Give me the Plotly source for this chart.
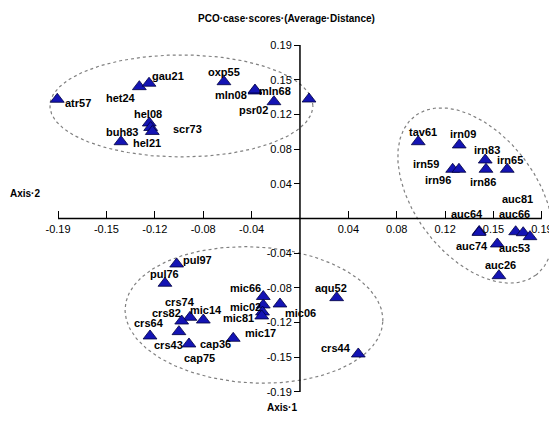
import numpy as np
import plotly.graph_objects as go

# ---- data ----
case_names = ["atr57", "het24", "gau21", "oxp55", "mln08", "mln68", "psr02", "",
              "hel08", "scr73", "hel21", "buh83",
              "tav61", "irn09", "irn83", "irn86", "irn59", "irn96", "irn65",
              "auc64", "auc74", "auc53", "auc26", "auc66", "", "auc81",
              "pul97", "pul76", "crs74", "crs82", "mic14", "crs64", "crs43", "cap75", "cap36",
              "mic66", "mic02", "mic17", "mic81", "mic06", "aqu52", "crs44"]
axis1_scores = [-0.1931, -0.1278, -0.1201, -0.0605, -0.0358, -0.0358, -0.0207, 0.0072,
                -0.1199, -0.1188, -0.1175, -0.1424,
                0.0941, 0.1267, 0.1474, 0.1480, 0.1215, 0.1265, 0.1649,
                0.1426, 0.1424, 0.1570, 0.1583, 0.1716, 0.1776, 0.1830,
                -0.0981, -0.1074, -0.0875, -0.0941, -0.0769, -0.1193, -0.0963, -0.0883, -0.0531,
                -0.0292, -0.0292, -0.0298, -0.0304, -0.0159, 0.0292, 0.0464]
axis2_scores = [0.1323, 0.1463, 0.1501, 0.1518, 0.1415, 0.1426, 0.1296, 0.1326,
                0.1060, 0.1010, 0.0966, 0.0852,
                0.0852, 0.0816, 0.0649, 0.0546, 0.0546, 0.0546, 0.0546,
                -0.0144, -0.0155, -0.0283, -0.0635, -0.0147, -0.0158, -0.0202,
                -0.0505, -0.0719, -0.1097, -0.1138, -0.1127, -0.1304, -0.1256, -0.1393, -0.1330,
                -0.0866, -0.0960, -0.1038, -0.1082, -0.0949, -0.0879, -0.1504]

tick_values = [-0.1925, -0.154, -0.1155, -0.077, -0.0385, 0.0385, 0.077, 0.1155, 0.154, 0.1925]
tick_labels = ["-0.19", "-0.15", "-0.12", "-0.08", "-0.04", "0.04", "0.08", "0.12", "0.15", "0.19"]

# ---- label placement (pixel offsets from each point; dy positive = downward) ----
label_dx = [21, -18, 19, 0, -24, 20, -20, 0,
            -1, 37, -5, 1,
            5, 4, 2, -3, -27, -21, 3,
            -12, -7, 17, 2, -1, 0, -12,
            21, 0, -10, -15, 3, -1, -10, 11, -18,
            -18, -18, -2, -23, 21, -6, -22]
label_dy = [4, 11, -7, -10, 4, 1, 8, 0,
            -9, 2, 12, -10,
            -10, -11, -10, 13, -5, 11, -9,
            -17, 14, 4, -11, -18, 0, -38,
            -4, -9, -15, -8, -10, -13, 13, 14, 6,
            -9, 2, 21, 2, 9, -10, -6]

# ---- group ellipses: centre and two conjugate semi-axis vectors (data units) ----
ellipse_centres = [(-0.0943, 0.1249), (0.1396, 0.0255), (-0.0366, -0.1071)]
ellipse_u = [(0.1046, 0.0), (0.0482, -0.0882), (0.1025, -0.0075)]
ellipse_v = [(0.0, 0.0566), (-0.0386, -0.0410), (-0.0028, -0.0754)]

x_range = [-0.2323, 0.2045]
y_range = [-0.2159, 0.2336]
axis_end = 0.1925

W, H, OFF = 549, 405, 8   # page body has an 8px margin
FONT = "Liberation Sans, Arial, sans-serif"


def px(x):
    return (x - OFF) / W


def py(y):
    return 1 - (y - OFF) / H


fig = go.Figure()

t = np.linspace(0, 2 * np.pi, 241)
for (cx, cy), (ux, uy), (vx, vy) in zip(ellipse_centres, ellipse_u, ellipse_v):
    fig.add_trace(go.Scatter(
        x=cx + ux * np.cos(t) + vx * np.sin(t),
        y=cy + uy * np.cos(t) + vy * np.sin(t),
        mode="lines", line=dict(color="#808080", width=1.2, dash="dot"),
        hoverinfo="skip", showlegend=False, cliponaxis=False))

fig.add_trace(go.Scatter(
    x=axis1_scores, y=axis2_scores, mode="markers", text=case_names,
    marker=dict(symbol="triangle-up", size=12, color="#1414b4",
                line=dict(color="#000040", width=0.8)),
    showlegend=False, cliponaxis=False))

for name, x, y, dx, dy in zip(case_names, axis1_scores, axis2_scores, label_dx, label_dy):
    if not name:
        continue
    fig.add_annotation(x=x, y=y, text=name, showarrow=False,
                       xshift=dx, yshift=-dy, xanchor="center", yanchor="middle",
                       font=dict(family=FONT, size=11, color="black", weight="bold"))

# axis lines through the origin
fig.add_shape(type="line", x0=-axis_end, x1=axis_end, y0=0, y1=0,
              line=dict(color="black", width=1.5), layer="above")
fig.add_shape(type="line", x0=0, x1=0, y0=-axis_end, y1=axis_end,
              line=dict(color="black", width=1.5), layer="above")

x_pos = (0 - y_range[0]) / (y_range[1] - y_range[0])
y_pos = (0 - x_range[0]) / (x_range[1] - x_range[0])

fig.update_layout(
    width=W, height=H,
    margin=dict(l=0, r=0, t=0, b=0),
    paper_bgcolor="white", plot_bgcolor="white",
    xaxis=dict(range=x_range, anchor="free", position=x_pos, side="bottom",
               showgrid=False, zeroline=False, showline=False,
               tickmode="array", tickvals=tick_values, ticktext=tick_labels,
               ticks="inside", ticklen=7, tickwidth=1.2, tickcolor="black",
               ticklabelstandoff=3,
               tickfont=dict(family=FONT, size=11, color="black")),
    yaxis=dict(range=y_range, anchor="free", position=y_pos, side="left",
               showgrid=False, zeroline=False, showline=False,
               tickmode="array", tickvals=tick_values, ticktext=tick_labels,
               ticks="outside", ticklen=6, tickwidth=1.2, tickcolor="black",
               tickfont=dict(family=FONT, size=11, color="black")),
)

fig.add_annotation(text="PCO·case·scores·(Average·Distance)", xref="paper", yref="paper",
                   x=px(286), y=py(19), showarrow=False, xanchor="center", yanchor="middle",
                   font=dict(family=FONT, size=10, color="black", weight="bold"))
fig.add_annotation(text="Axis·2", xref="paper", yref="paper",
                   x=px(25), y=py(193), showarrow=False, xanchor="center", yanchor="middle",
                   font=dict(family=FONT, size=10, color="black", weight="bold"))
fig.add_annotation(text="Axis·1", xref="paper", yref="paper",
                   x=px(282), y=py(407), showarrow=False, xanchor="center", yanchor="middle",
                   font=dict(family=FONT, size=10, color="black", weight="bold"))

fig.write_html("out.html")
